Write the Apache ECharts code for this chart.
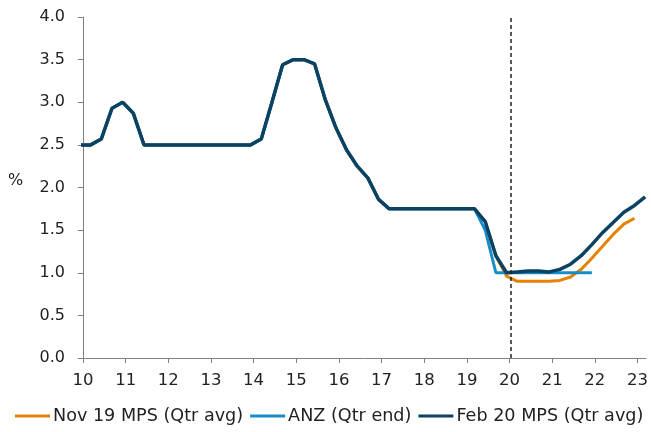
<!DOCTYPE html>
<html>
<head>
<meta charset="utf-8">
<script src="https://cdn.jsdelivr.net/npm/echarts@6/dist/echarts.min.js"></script>
<style>
html,body{margin:0;padding:0;background:#fff;}
#chart{width:651px;height:432px;}
</style>
</head>
<body>
<div id="chart"></div>
<script>
// Quarterly observations; first point sits just left of the 2010 tick
const firstQuarter = 9.93;
const quarterStep = 0.25;

// Feb 20 MPS (Qtr avg)
const feb20 = [2.5, 2.5, 2.57, 2.93, 3.0, 2.87, 2.5, 2.5, 2.5, 2.5,
  2.5, 2.5, 2.5, 2.5, 2.5, 2.5, 2.5, 2.57, 3.0, 3.44,
  3.5, 3.5, 3.45, 3.03, 2.7, 2.44, 2.25, 2.11, 1.86, 1.75,
  1.75, 1.75, 1.75, 1.75, 1.75, 1.75, 1.75, 1.75, 1.6, 1.2,
  1.0, 1.01, 1.02, 1.02, 1.01, 1.04, 1.1, 1.2, 1.33, 1.47,
  1.59, 1.71, 1.79, 1.89];

// Nov 19 MPS (Qtr avg)
const nov19 = [2.5, 2.5, 2.57, 2.93, 3.0, 2.87, 2.5, 2.5, 2.5, 2.5,
  2.5, 2.5, 2.5, 2.5, 2.5, 2.5, 2.5, 2.57, 3.0, 3.44,
  3.5, 3.5, 3.45, 3.03, 2.7, 2.44, 2.25, 2.11, 1.86, 1.75,
  1.75, 1.75, 1.75, 1.75, 1.75, 1.75, 1.75, 1.75, 1.6, 1.2,
  0.96, 0.9, 0.9, 0.9, 0.9, 0.91, 0.95, 1.04, 1.17, 1.31,
  1.45, 1.57, 1.64];

// ANZ (Qtr end)
const anz = [2.5, 2.5, 2.57, 2.93, 3.0, 2.87, 2.5, 2.5, 2.5, 2.5,
  2.5, 2.5, 2.5, 2.5, 2.5, 2.5, 2.5, 2.57, 3.0, 3.44,
  3.5, 3.5, 3.45, 3.03, 2.7, 2.44, 2.25, 2.11, 1.86, 1.75,
  1.75, 1.75, 1.75, 1.75, 1.75, 1.75, 1.75, 1.75, 1.5, 1.0,
  1.0, 1.0, 1.0, 1.0, 1.0, 1.0, 1.0, 1.0, 1.0];

const xTicks = [10, 11, 12, 13, 14, 15, 16, 17, 18, 19, 20, 21, 22, 23];
const yTicks = [0, 0.5, 1.0, 1.5, 2.0, 2.5, 3.0, 3.5, 4.0];
const mpsDate = 20.04;

const seriesNames = ['Nov 19 MPS (Qtr avg)', 'ANZ (Qtr end)', 'Feb 20 MPS (Qtr avg)'];
const colors = ['#E58200', '#168CC8', '#0A4263'];

function toPairs(arr) {
  return arr.map((v, i) => [firstQuarter + i * quarterStep, v]);
}

const font = 'DejaVu Sans, Verdana, sans-serif';
const chart = echarts.init(document.getElementById('chart'), null, {renderer: 'canvas'});
chart.setOption({
  animation: false,
  backgroundColor: '#ffffff',
  color: colors,
  textStyle: {fontFamily: font},
  grid: {left: 83, right: 3, top: 17, bottom: 74, containLabel: false},
  legend: {
    left: 10, top: 402, width: 660,
    itemGap: 7, itemWidth: 35, itemHeight: 3,
    icon: 'rect',
    textStyle: {fontFamily: font, fontSize: 17.6, color: '#222', padding: [0, 0, 0, -2]},
    data: seriesNames
  },
  graphic: [{
    type: 'text', left: 8, top: 173,
    style: {text: '%', fontFamily: font, fontSize: 16, fill: '#222'}
  }],
  xAxis: {
    type: 'value', min: 10, max: 23.2,
    axisLine: {show: true, lineStyle: {color: '#808080', width: 1}},
    axisTick: {show: true, length: 5, lineStyle: {color: '#808080'}, customValues: xTicks},
    axisLabel: {fontFamily: font, fontSize: 16.5, color: '#222', margin: 14, customValues: xTicks,
      formatter: v => String(v)},
    splitLine: {show: false}
  },
  yAxis: {
    type: 'value', min: 0, max: 4, interval: 0.5,
    axisLine: {show: true, lineStyle: {color: '#808080', width: 1}},
    axisTick: {show: true, length: 5, lineStyle: {color: '#808080'}},
    axisLabel: {fontFamily: font, fontSize: 16, color: '#222', margin: 18,
      formatter: v => v.toFixed(1)},
    splitLine: {show: false}
  },
  series: [
    {name: seriesNames[0], type: 'line', data: toPairs(nov19), showSymbol: false, symbol: 'none',
      lineStyle: {width: 3, color: colors[0]}, itemStyle: {color: colors[0]}, clip: true, z: 2},
    {name: seriesNames[1], type: 'line', data: toPairs(anz), showSymbol: false, symbol: 'none',
      lineStyle: {width: 3, color: colors[1]}, itemStyle: {color: colors[1]}, clip: true, z: 3},
    {name: seriesNames[2], type: 'line', data: toPairs(feb20), showSymbol: false, symbol: 'none',
      lineStyle: {width: 3.5, color: colors[2]}, itemStyle: {color: colors[2]}, clip: true, z: 4,
      markLine: {
        silent: true, symbol: 'none', label: {show: false},
        lineStyle: {color: '#222', width: 1.5, type: [4, 3]},
        data: [{xAxis: mpsDate}]
      }}
  ]
});
</script>
</body>
</html>
